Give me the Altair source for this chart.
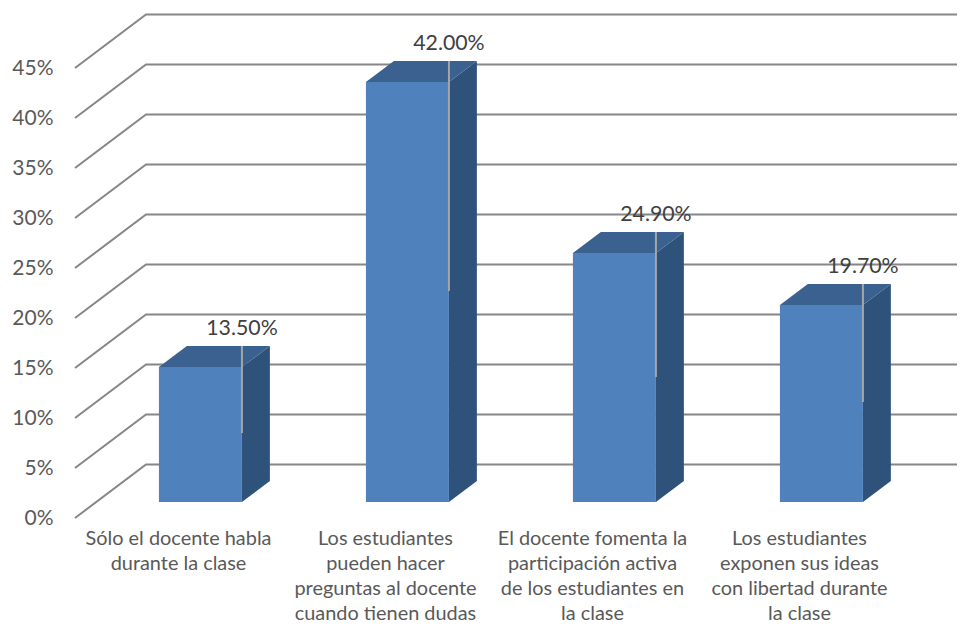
import altair as alt
import pandas as pd

categories = [
    "Sólo el docente habla\ndurante la clase",
    "Los estudiantes\npueden hacer\npreguntas al docente\ncuando tienen dudas",
    "El docente fomenta la\nparticipación activa\nde los estudiantes en\nla clase",
    "Los estudiantes\nexponen sus ideas\ncon libertad durante\nla clase",
]
values = [13.5, 42.0, 24.9, 19.7]
leader_ends = [8.5, 22.7, 14.1, 11.6]
grid_levels = [0, 5, 10, 15, 20, 25, 30, 35, 40, 45]

# Oblique projection, in axis units (1 x unit = one category, y unit = percent)
X_MIN, X_MAX = -0.606, 3.655
WALL_DX, WALL_DY = 0.343, 5.35
FLOOR = 1.6
HALF = 0.2005
DEPTH_DX, DEPTH_DY = 0.135, 2.1
LABEL_SHIFT = 0.106

FONT = "Lato"
GRID_COLOR = "#868686"
FRONT, SIDE, TOP = "#4F81BD", "#2F527A", "#3A6190"

grid_rows = []
for v in grid_levels:
    grid_rows += [
        {"level": v, "x": X_MIN, "y": v, "o": 0},
        {"level": v, "x": X_MIN + WALL_DX, "y": v + WALL_DY, "o": 1},
        {"level": v, "x": X_MAX, "y": v + WALL_DY, "o": 2},
    ]

front_rows, side_rows, top_rows, leader_rows, label_rows, cat_rows = [], [], [], [], [], []
for i, (c, v, e) in enumerate(zip(categories, values, leader_ends)):
    L, R = i - HALF, i + HALF
    t = v + FLOOR
    front_rows.append({"x": L, "x2": R, "y": FLOOR, "y2": t})
    side_rows += [
        {"bar": i, "x": R, "y": FLOOR, "y2": t},
        {"bar": i, "x": R + DEPTH_DX, "y": FLOOR + DEPTH_DY, "y2": t + DEPTH_DY},
    ]
    top_rows += [
        {"bar": i, "x": L, "y": t, "y2": t},
        {"bar": i, "x": L + DEPTH_DX, "y": t, "y2": t + DEPTH_DY},
        {"bar": i, "x": R, "y": t, "y2": t + DEPTH_DY},
        {"bar": i, "x": R + DEPTH_DX, "y": t + DEPTH_DY, "y2": t + DEPTH_DY},
    ]
    leader_rows.append({"x": R, "y": t + DEPTH_DY, "y2": e})
    label_rows.append({"x": R, "y": t + DEPTH_DY, "label": f"{v:.2f}%"})
    cat_rows.append({"x": i - LABEL_SHIFT, "label": c})

x_scale = alt.Scale(domain=[X_MIN, X_MAX], nice=False, zero=False)
y_scale = alt.Scale(domain=[0, 50.5], nice=False, zero=False)
X = alt.X("x:Q", scale=x_scale, axis=None)
Y = alt.Y(
    "y:Q",
    scale=y_scale,
    axis=alt.Axis(
        values=grid_levels,
        labelExpr="datum.value + '%'",
        domain=False,
        ticks=False,
        grid=False,
        title=None,
        labelFont=FONT,
        labelFontSize=21,
        labelColor="#595959",
        labelPadding=22,
    ),
)

grid = alt.Chart(pd.DataFrame(grid_rows)).mark_line(color=GRID_COLOR, strokeWidth=2).encode(
    x=X, y=Y, detail="level:N", order="o:Q"
)
front = alt.Chart(pd.DataFrame(front_rows)).mark_rect(color=FRONT).encode(
    x=X, x2="x2:Q", y=Y, y2="y2:Q"
)
side = alt.Chart(pd.DataFrame(side_rows)).mark_area(color=SIDE, opacity=1).encode(
    x=X, y=Y, y2="y2:Q", detail="bar:N"
)
top = alt.Chart(pd.DataFrame(top_rows)).mark_area(color=TOP, opacity=1).encode(
    x=X, y=Y, y2="y2:Q", detail="bar:N"
)
leaders = alt.Chart(pd.DataFrame(leader_rows)).mark_rule(color="#A6A6A6", strokeWidth=2).encode(
    x=X, y=Y, y2="y2:Q"
)
bar_labels = alt.Chart(pd.DataFrame(label_rows)).mark_text(
    font=FONT, fontSize=21.3, color="#404040", dy=-17, align="center", baseline="middle"
).encode(x=X, y=Y, text="label:N")
cat_labels = alt.Chart(pd.DataFrame(cat_rows)).mark_text(
    font=FONT, fontSize=19.9, color="#595959", align="center", baseline="top",
    lineBreak="\n", lineHeight=25,
).encode(x=X, y=alt.value(516), text="label:N")

chart = alt.layer(grid, side, top, front, leaders, bar_labels, cat_labels).properties(
    width=882,
    height=505,
    padding={"left": 67, "top": 5, "right": 0, "bottom": 107},
    autosize=alt.AutoSizeParams(type="none"),
    background="white",
).configure_view(stroke=None)

chart.save("out.html", embed_options={"renderer": "svg", "actions": False})
